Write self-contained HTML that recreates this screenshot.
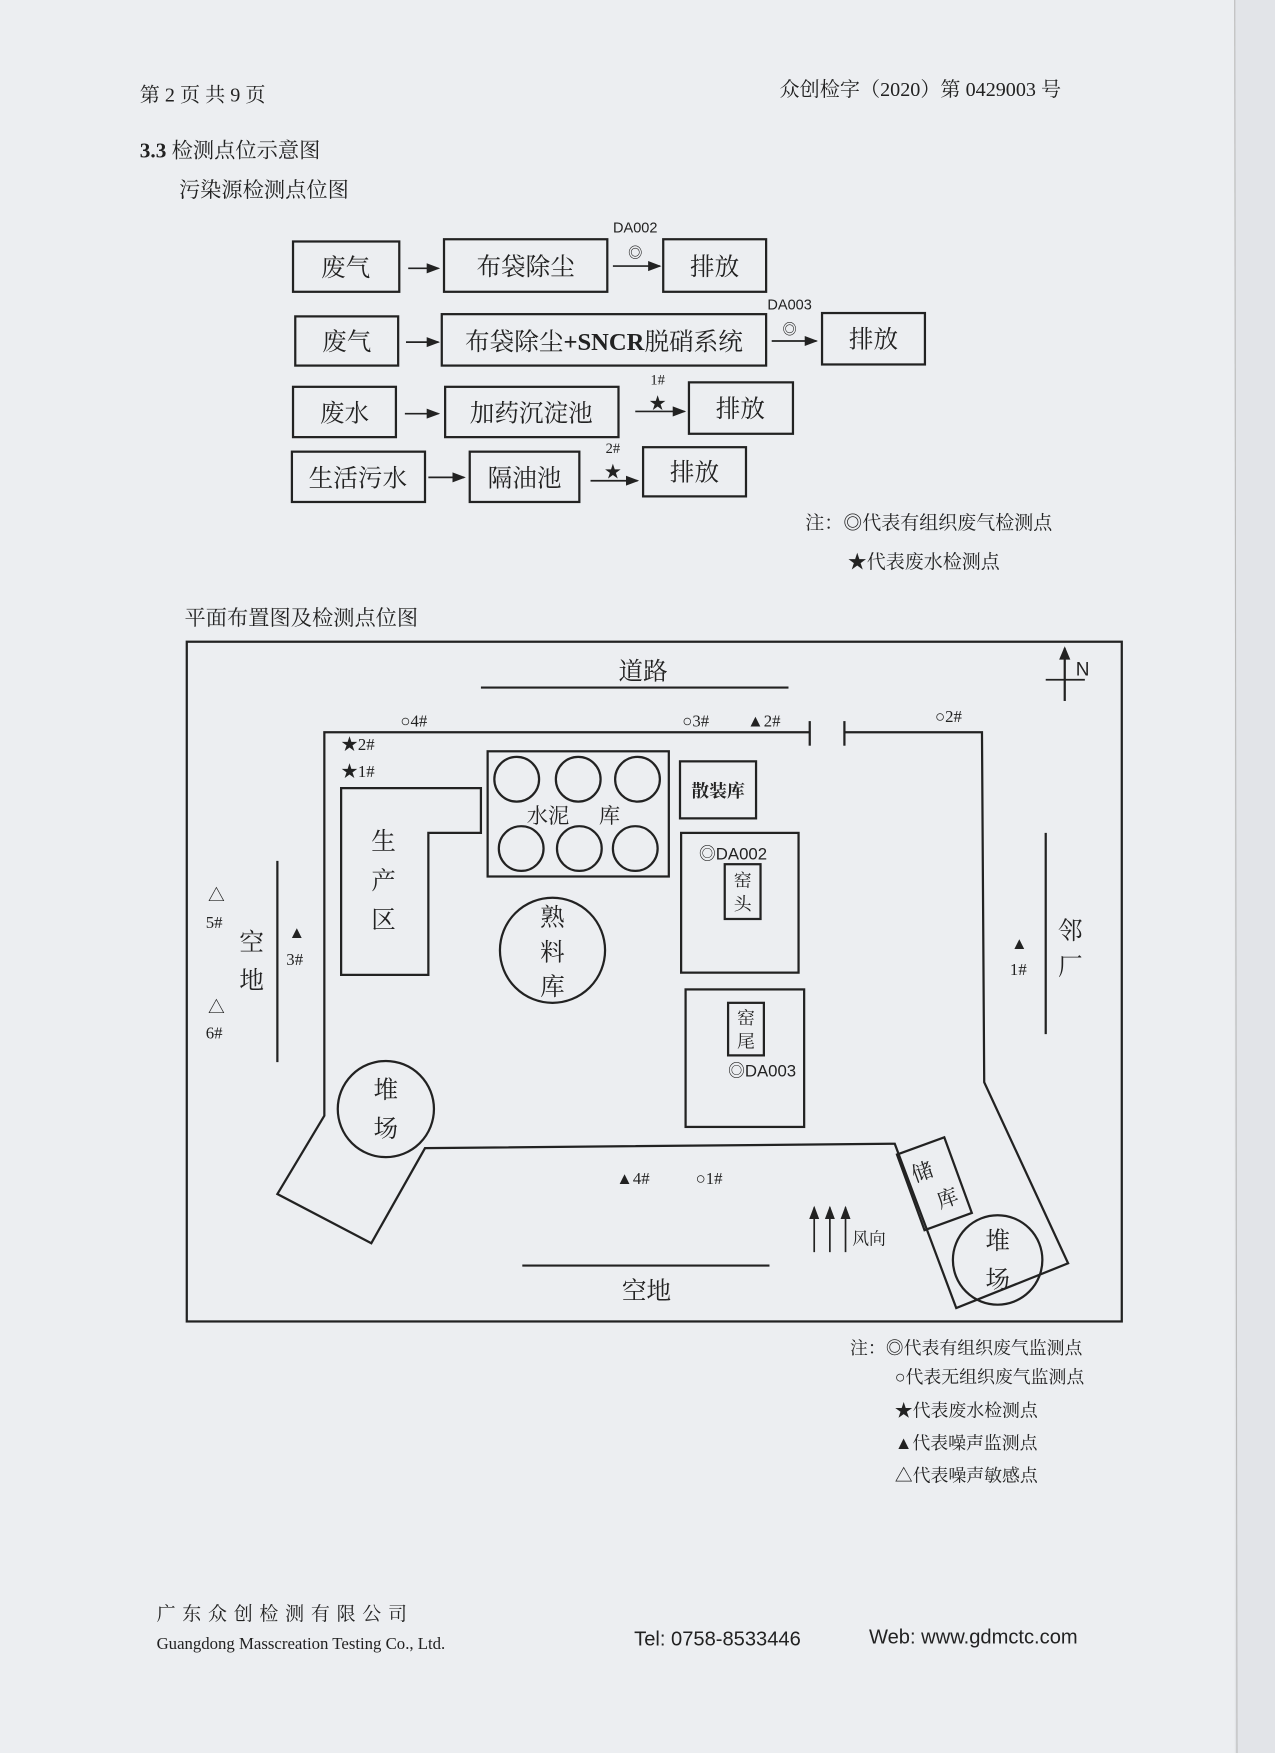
<!DOCTYPE html>
<html><head><meta charset="utf-8">
<style>
html,body{margin:0;padding:0;background:#eceef1;}
svg{display:block;}
text{font-family:"Liberation Serif","Noto Serif CJK SC","Noto Sans CJK SC",serif;fill:#222;}
.s{font-family:"Liberation Sans","Noto Sans CJK SC",sans-serif;}
</style></head><body>
<svg width="1275" height="1753" viewBox="0 0 1140 1568" preserveAspectRatio="none" xmlns="http://www.w3.org/2000/svg">
<defs><marker id="a" markerWidth="8" markerHeight="8" refX="7" refY="4" orient="auto"><path d="M0,1 L8,4 L0,7 Z" fill="#222"/></marker></defs>
<rect width="1140" height="1568" fill="#eceef1"/>
<rect x="1104" y="0" width="36" height="1568" fill="#e2e4e8"/>
<line x1="1104" y1="0" x2="1106" y2="1568" stroke="#bbb" stroke-width="1"/>
<!-- header -->
<text x="125" y="91" font-size="18">第 2 页 共 9 页</text>
<text x="697" y="86" font-size="18">众创检字（2020）第 0429003 号</text>
<text x="125" y="141" font-size="19"><tspan font-weight="bold">3.3</tspan> 检测点位示意图</text>
<text x="160" y="176" font-size="19">污染源检测点位图</text>
<g fill="none" stroke="#222" stroke-width="2">
<rect x="262" y="216" width="95" height="45"/><rect x="397" y="214" width="146" height="47"/><rect x="593" y="214" width="92" height="47"/>
<rect x="264" y="283" width="92" height="44"/><rect x="395" y="281" width="290" height="46"/><rect x="735" y="280" width="92" height="46"/>
<rect x="262" y="346" width="92" height="45"/><rect x="398" y="346" width="155" height="45"/><rect x="616" y="342" width="93" height="46"/>
<rect x="261" y="404" width="119" height="45"/><rect x="420" y="404" width="98" height="45"/><rect x="575" y="400" width="92" height="44"/>
</g>
<g stroke="#222" stroke-width="1.5" marker-end="url(#a)">
<line x1="365" y1="240" x2="392" y2="240"/><line x1="548" y1="238" x2="590" y2="238"/>
<line x1="363" y1="306" x2="392" y2="306"/><line x1="690" y1="305" x2="730" y2="305"/>
<line x1="362" y1="370" x2="392" y2="370"/><line x1="568" y1="368" x2="612" y2="368"/>
<line x1="383" y1="427" x2="415" y2="427"/><line x1="528" y1="430" x2="570" y2="430"/>
</g>
<g font-size="22" text-anchor="middle" font-family="Liberation Sans,Noto Sans CJK SC,sans-serif">
<text x="309" y="247">废气</text><text x="470" y="246">布袋除尘</text><text x="639" y="246">排放</text>
<text x="310" y="313">废气</text><text x="540" y="313">布袋除尘<tspan font-weight="bold">+SNCR</tspan>脱硝系统</text><text x="781" y="311">排放</text>
<text x="308" y="377">废水</text><text x="475" y="377">加药沉淀池</text><text x="662" y="373">排放</text>
<text x="320" y="435">生活污水</text><text x="469" y="435">隔油池</text><text x="621" y="430">排放</text>
</g>
<g font-size="13" text-anchor="middle" class="s">
<text x="568" y="208" class="s">DA002</text><text x="568" y="231">◎</text>
<text x="706" y="277" class="s">DA003</text><text x="706" y="299">◎</text>
<text x="588" y="344">1#</text><text x="588" y="366" font-size="15">★</text>
<text x="548" y="405">2#</text><text x="548" y="427" font-size="15">★</text>
</g>
<text x="720" y="473" font-size="17">注：◎代表有组织废气检测点</text>
<text x="758" y="508" font-size="17">★代表废水检测点</text>
<text x="165" y="559" font-size="19">平面布置图及检测点位图</text>
<!-- map -->
<g fill="none" stroke="#222" stroke-width="2">
<rect x="167" y="574" width="836" height="608"/>
<line x1="430" y1="615" x2="705" y2="615"/>
<line x1="952" y1="580" x2="952" y2="627" marker-end="none"/>
<line x1="935" y1="608" x2="970" y2="608" stroke-width="1.5"/>
<path d="M724,655 L290,655 L290,998 L248,1068 L332,1112 L380,1027 L800,1023 L855,1170 L955,1130 L880,968 L878,655 L755,655"/>
<line x1="724" y1="645" x2="724" y2="667"/><line x1="755" y1="645" x2="755" y2="667"/>
<circle cx="345" cy="992" r="43"/><circle cx="892" cy="1127" r="40"/>
<rect x="813" y="1023" width="45" height="72" transform="rotate(-20 835 1059)"/>
<path d="M305,705 L430,705 L430,745 L383,745 L383,872 L305,872 Z"/>
<rect x="436" y="672" width="162" height="112"/>
<circle cx="462" cy="697" r="20"/><circle cx="517" cy="697" r="20"/><circle cx="570" cy="697" r="20"/>
<circle cx="466" cy="759" r="20"/><circle cx="518" cy="759" r="20"/><circle cx="568" cy="759" r="20"/>
<rect x="608" y="681" width="68" height="51"/>
<rect x="609" y="745" width="105" height="125"/><rect x="648" y="773" width="32" height="49"/>
<rect x="613" y="885" width="106" height="123"/><rect x="651" y="897" width="32" height="47"/>
<circle cx="494" cy="850" r="47"/>
<line x1="248" y1="770" x2="248" y2="950"/><line x1="935" y1="745" x2="935" y2="925"/>
<line x1="467" y1="1132" x2="688" y2="1132"/>
</g>
<path d="M952,578 L947,590 L957,590 Z" fill="#222"/>
<g stroke="#222" stroke-width="1.5" marker-end="url(#a)">
<line x1="728" y1="1120" x2="728" y2="1080"/><line x1="742" y1="1120" x2="742" y2="1080"/><line x1="756" y1="1120" x2="756" y2="1080"/>
</g>
<g font-size="22" text-anchor="middle">
<text x="575" y="608">道路</text><text x="968" y="604" font-size="17" class="s">N</text>
<text x="343" y="760">生</text><text x="343" y="795">产</text><text x="343" y="830">区</text>
<text x="494" y="828">熟</text><text x="494" y="859">料</text><text x="494" y="890">库</text>
<text x="225" y="850">空</text><text x="225" y="884">地</text>
<text x="957" y="840">邻</text><text x="957" y="872">厂</text>
<text x="345" y="982">堆</text><text x="345" y="1017">场</text>
<text x="892" y="1117">堆</text><text x="892" y="1152">场</text>
<text x="578" y="1162">空地</text>
</g>
<g font-size="19" text-anchor="middle">
<text x="490" y="736">水泥</text><text x="545" y="736">库</text>
<text x="642" y="713" font-size="16" font-weight="bold">散装库</text>
<text x="664" y="793" font-size="16">窑</text><text x="664" y="814" font-size="16">头</text>
<text x="667" y="916" font-size="16">窑</text><text x="667" y="937" font-size="16">尾</text>
<text x="829" y="1052" transform="rotate(-20 835 1059)">储</text><text x="842" y="1082" transform="rotate(-20 835 1059)">库</text>
</g>
<g font-size="15" class="s">
<text x="625" y="769" class="s">◎DA002</text><text x="651" y="963" class="s">◎DA003</text>
<text x="358" y="650">○4#</text><text x="610" y="650">○3#</text><text x="668" y="650">▲2#</text><text x="836" y="646">○2#</text>
<text x="305" y="671">★2#</text><text x="305" y="695">★1#</text>
<text x="186" y="806">△</text><text x="184" y="830">5#</text>
<text x="258" y="839">▲</text><text x="256" y="863">3#</text>
<text x="186" y="906">△</text><text x="184" y="929">6#</text>
<text x="904" y="849">▲</text><text x="903" y="872">1#</text>
<text x="551" y="1059">▲4#</text><text x="622" y="1059">○1#</text>
<text x="762" y="1113">风向</text>
</g>
<g font-size="16">
<text x="760" y="1211">注：◎代表有组织废气监测点</text>
<text x="800" y="1237">○代表无组织废气监测点</text>
<text x="800" y="1267">★代表废水检测点</text>
<text x="800" y="1296">▲代表噪声监测点</text>
<text x="800" y="1325">△代表噪声敏感点</text>
</g>
<!-- footer -->
<text x="140" y="1449" font-size="17" letter-spacing="6">广东众创检测有限公司</text>
<text x="140" y="1475" font-size="15">Guangdong Masscreation Testing Co., Ltd.</text>
<text x="567" y="1472" font-size="18" class="s">Tel: 0758-8533446</text>
<text x="777" y="1470" font-size="18" class="s">Web: www.gdmctc.com</text>
</svg>
</body></html>
